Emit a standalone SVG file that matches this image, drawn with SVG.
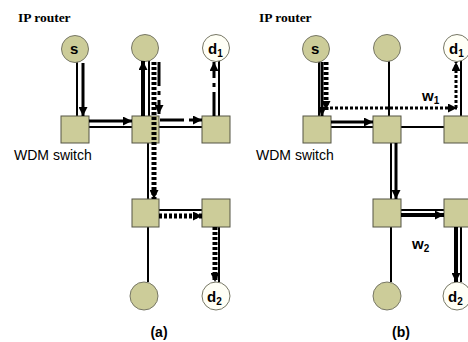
<svg xmlns="http://www.w3.org/2000/svg" width="468" height="342" viewBox="0 0 468 342">
<style>
.bg{fill:#ffffff}
.sw{fill:#cccc99;stroke:#555544;stroke-width:1}
.rt{fill:#cccc99;stroke:#777766;stroke-width:1}
.dst{fill:#fffff6;stroke:#777766;stroke-width:1}
.link{fill:none;stroke:#000;stroke-width:2}
.lp{fill:none;stroke:#000;stroke-width:3;marker-end:url(#ah)}
.lpw{fill:none;stroke:#000;stroke-width:4;marker-end:url(#ah)}
.dd{fill:none;stroke:#000;stroke-width:3;stroke-dasharray:24 5 4 5;marker-end:url(#ah)}
.dot{fill:none;stroke:#000;stroke-width:5;stroke-dasharray:3 2;marker-end:url(#ah)}
.dots{fill:none;stroke:#000;stroke-width:3;stroke-dasharray:3 2;marker-end:url(#ah)}
.lab{font-family:"Liberation Sans",Arial,sans-serif;font-size:14px;fill:#000}
.nl{font-family:"Liberation Sans",Arial,sans-serif;font-size:15px;font-weight:bold;fill:#000}
.sub{font-size:10px}
.ip{font-family:"Liberation Serif","Times New Roman",serif;font-size:13.5px;font-weight:bold;fill:#000}
.cap{font-family:"Liberation Sans",Arial,sans-serif;font-size:14px;font-weight:bold;fill:#000;text-anchor:middle}
</style>
<defs>
<marker id="ah" viewBox="0 0 10 10" refX="10" refY="5" markerWidth="9" markerHeight="9" markerUnits="userSpaceOnUse" orient="auto">
<path d="M0,0 L10,5 L0,10 z" fill="#000"/>
</marker>
</defs>
<rect class="bg" x="0" y="0" width="468" height="342"/>

<g id="connectors">
<!-- panel a links -->
<path class="link" d="M77,62 V116"/>
<path class="link" d="M89,127 H132"/>
<path class="link" d="M149,61 V116"/>
<path class="link" d="M159,127 H202"/>
<path class="link" d="M219,61 V116"/>
<path class="link" d="M148,143 V199"/>
<path class="link" d="M159,210 H202"/>
<path class="link" d="M219,227 V282"/>
<path class="link" d="M148,227 V282"/>
<!-- panel b links -->
<path class="link" d="M319,62 V116"/>
<path class="link" d="M331,127 H373"/>
<path class="link" d="M389,61 V116"/>
<path class="link" d="M401,127 H444"/>
<path class="link" d="M461,61 V116"/>
<path class="link" d="M391,143 V199"/>
<path class="link" d="M401,210 H444"/>
<path class="link" d="M461,227 V282"/>
<path class="link" d="M391,227 V282"/>
</g>

<g id="ip-router-label"><text class="ip" x="18" y="22">IP router</text></g>
<g id="ip-router-label-b"><text class="ip" x="259" y="22">IP router</text></g>
<g id="wdm-label"><text class="lab" x="14" y="160">WDM switch</text></g>
<g id="wdm-label-b"><text class="lab" x="256" y="160">WDM switch</text></g>

<!-- panel a nodes -->
<g id="a-s"><circle class="rt" cx="75" cy="49" r="13.5"/><text class="nl" x="70" y="54">s</text></g>
<g id="a-r2"><circle class="rt" cx="145" cy="48" r="13.5"/></g>
<g id="a-d1"><circle class="dst" cx="216" cy="48" r="13.5"/><text class="nl" x="208" y="54">d<tspan class="sub" dy="3">1</tspan></text></g>
<g id="a-sw1"><rect class="sw" x="61" y="116" width="28" height="27"/></g>
<g id="a-sw2"><rect class="sw" x="132" y="116" width="27" height="27"/></g>
<g id="a-sw3"><rect class="sw" x="202" y="116" width="28" height="27"/></g>
<g id="a-sw4"><rect class="sw" x="132" y="199" width="27" height="28"/></g>
<g id="a-sw5"><rect class="sw" x="202" y="199" width="28" height="28"/></g>
<g id="a-r5"><circle class="rt" cx="144" cy="296" r="14"/></g>
<g id="a-d2"><circle class="dst" cx="216" cy="296" r="14"/><text class="nl" x="207" y="302">d<tspan class="sub" dy="3">2</tspan></text></g>

<!-- panel b nodes -->
<g id="b-s"><circle class="rt" cx="316" cy="49" r="13.5"/><text class="nl" x="311" y="54">s</text></g>
<g id="b-r2"><circle class="rt" cx="387" cy="48" r="13.5"/></g>
<g id="b-d1"><circle class="dst" cx="457" cy="48" r="13.5"/><text class="nl" x="449" y="54">d<tspan class="sub" dy="3">1</tspan></text></g>
<g id="b-sw1"><rect class="sw" x="303" y="116" width="28" height="27"/></g>
<g id="b-sw2"><rect class="sw" x="373" y="116" width="28" height="27"/></g>
<g id="b-sw3"><rect class="sw" x="444" y="116" width="28" height="27"/></g>
<g id="b-sw4"><rect class="sw" x="373" y="199" width="28" height="28"/></g>
<g id="b-sw5"><rect class="sw" x="444" y="199" width="28" height="28"/></g>
<g id="b-r5"><circle class="rt" cx="387" cy="296" r="14"/></g>
<g id="b-d2"><circle class="dst" cx="457" cy="296" r="14"/><text class="nl" x="448" y="302">d<tspan class="sub" dy="3">2</tspan></text></g>

<g id="lightpaths">
<!-- panel a: solid lightpath s -> middle router -->
<path class="lp" d="M83,63 V116"/>
<path class="lp" d="M89,121 H132"/>
<path class="lpw" d="M143,116 V61"/>
<!-- panel a: dash-dot lightpath middle router -> d1 -->
<path class="dd" d="M159,62 V114"/>
<path class="dd" d="M160,120 H202"/>
<path class="dd" d="M214,116 V62"/>
<!-- panel a: dotted lightpath middle router -> d2 -->
<path class="dot" d="M154,62 V199"/>
<path class="dot" d="M159,216 H202"/>
<path class="dot" d="M215,227 V282"/>
<!-- panel b: solid lightpath w2 -->
<path class="lp" d="M322,62 V116"/>
<path class="lp" d="M331,122 H373"/>
<path class="lp" d="M396,143 V199"/>
<path class="lpw" d="M401,215 H444"/>
<path class="lpw" d="M456,227 V282"/>
<!-- panel b: dotted lightpath w1 -->
<path class="dot" d="M326,62 V110"/>
<path class="dots" d="M330,108 H457"/>
<path class="dots" d="M456,108 V62"/>
</g>

<g id="wavelength-labels">
<text class="nl" x="422" y="101">w<tspan class="sub" dy="3">1</tspan></text>
<text class="nl" x="412" y="249">w<tspan class="sub" dy="3">2</tspan></text>
</g>

<g id="captions">
<text class="cap" x="159" y="337">(a)</text>
<text class="cap" x="401" y="337">(b)</text>
</g>
</svg>
